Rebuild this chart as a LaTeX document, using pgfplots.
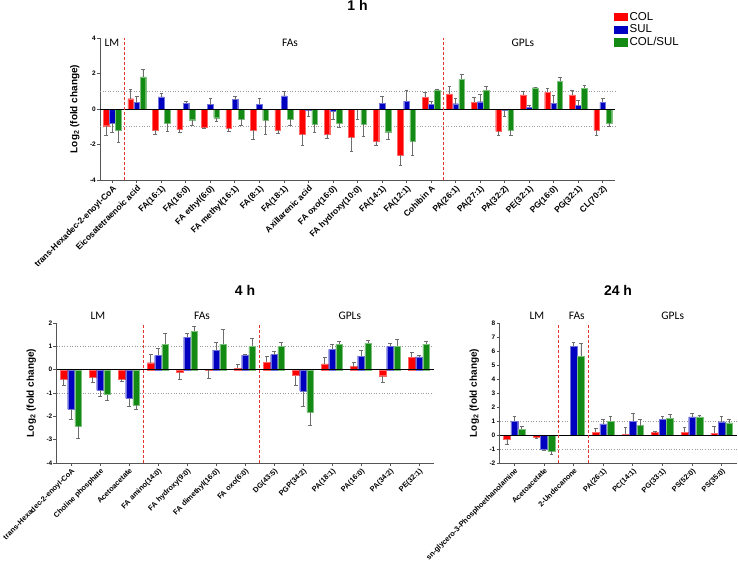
\documentclass[border=0pt]{standalone}
\usepackage{fontspec}
\setmainfont{Liberation Sans}
\newfontfamily\calib{Carlito}
\usepackage{pgfplots}
\usepackage{pgfplotstable}
\pgfplotsset{compat=1.18}

\definecolor{colred}{HTML}{FF0000}
\definecolor{sulblue}{HTML}{0000C0}
\definecolor{mixgreen}{HTML}{138A13}
\definecolor{errgray}{HTML}{6E6E6E}
\definecolor{axgray}{HTML}{555555}
\definecolor{refgray}{HTML}{9A9A9A}
\definecolor{divred}{HTML}{E8342E}

% mean log2 fold change and error (signed = direction the bar is drawn)
% cy/ce = COL, sy/se = SUL, gy/ge = COL/SUL
\pgfplotstableread{
x cy ce sy se gy ge
0 -0.94 -0.53 -0.81 -0.51 -1.17 -0.70
1 0.58 0.51 0.36 0.36 1.81 0.42
2 -1.17 -0.28 0.68 0.22 -0.79 -0.47
3 -1.15 -0.15 0.32 0.13 -0.60 -0.34
4 -1.02 -0.08 0.25 0.33 -0.49 -0.21
5 -1.08 -0.17 0.53 0.21 -0.57 -0.37
6 -1.21 -0.49 0.26 0.32 -0.64 -0.78
7 -1.21 -0.14 0.74 0.23 -0.55 -0.37
8 -1.40 -0.64 -0.08 -0.31 -0.86 -0.45
9 -1.41 -0.22 -0.13 -0.43 -0.79 -0.23
10 -1.58 -0.78 -0.03 -0.57 -0.86 -0.70
11 -1.83 -0.20 0.32 0.37 -1.28 -0.44
12 -2.60 -0.58 0.45 0.62 -1.83 -0.80
13 0.67 0.26 0.28 0.13 1.07 0.03
14 0.85 0.41 0.30 0.31 1.67 0.29
15 0.37 0.30 0.41 0.42 1.07 0.21
16 -1.26 -0.20 -0.07 -0.32 -1.20 -0.30
17 0.80 0.22 0.09 0.13 1.20 0.04
18 0.93 0.24 0.33 0.47 1.56 0.25
19 0.80 0.27 0.19 0.31 1.17 0.16
20 -1.17 -0.31 0.37 0.26 -0.80 -0.18
}\tOne

\pgfplotstableread{
x cy ce sy se gy ge
0 -0.42 -0.26 -1.70 -0.43 -2.42 -0.51
1 -0.32 -0.23 -0.88 -0.24 -1.07 -0.26
2 -0.41 -0.10 -1.23 -0.36 -1.51 -0.19
3 0.30 0.35 0.61 0.29 1.09 0.49
4 -0.10 -0.33 1.39 0.16 1.64 0.20
5 -0.02 -0.33 0.84 0.35 1.09 0.63
6 0.07 0.15 0.62 0.05 1.00 0.33
7 0.32 0.26 0.65 0.13 1.00 0.16
8 -0.25 -0.40 -0.91 -0.66 -1.83 -0.56
9 0.25 0.27 0.87 0.23 1.09 0.11
10 0.13 0.19 0.58 0.26 1.13 0.13
11 -0.26 -0.26 1.00 0.13 1.00 0.30
12 0.54 0.20 0.55 0.06 1.10 0.10
}\tFour

\pgfplotstableread{
x cy ce sy se gy ge
0 -0.31 -0.33 1.00 0.31 0.40 0.22
1 -0.14 -0.07 -1.02 -0.10 -1.17 -0.19
2 0 0 6.33 0.29 5.64 0.88
3 0.19 0.31 0.79 0.31 1.00 0.33
4 0.05 0.52 1.00 0.52 0.67 0.45
5 0.17 0.09 1.12 0.19 1.19 0.29
6 0.21 0.34 1.29 0.23 1.29 0.11
7 0.12 0.48 0.95 0.38 0.86 0.24
}\tDay

\tikzset{grp/.style={font=\calib\fontsize{11.5}{12}\selectfont}}
\pgfplotsset{
  panel/.style={
    scale only axis, clip=false,
    axis x line*=bottom, axis y line*=left,
    axis line style={axgray, line width=0.8pt},
    tick style={axgray, line width=0.8pt}, major tick length=3pt, tick align=outside,
    ybar, bar width=0.23,
    xtick=data,
    yticklabel style={font=\fontsize{6.5}{7}\selectfont\bfseries, inner sep=1pt},
    xticklabel style={font=\fontsize{7.4}{8}\selectfont\bfseries, rotate=45, anchor=north east, inner sep=1pt},
    ylabel={Log\textsubscript{2} (fold change)},
    ylabel style={font=\fontsize{10}{11}\selectfont\bfseries, at={(axis description cs:0,0.5)}, anchor=south, yshift=17pt},
    title style={font=\fontsize{14}{16}\selectfont\bfseries, at={(0.5,1)}, anchor=center},
  },
  ebar/.style={error bars/.cd, y dir=plus, y explicit,
    error bar style={errgray, line width=0.6pt},
    error mark options={errgray, line width=0.6pt, mark size=1.8pt, rotate=90}},
}

\begin{document}
\begin{tikzpicture}
\useasboundingbox (0,0) rectangle (738pt,563pt);

% ---------- 1 h ----------
\begin{axis}[panel, at={(100pt,383pt)}, anchor=south west,
  width=515pt, height=142pt,
  xmin=-0.5, xmax=20.5, ymin=-4, ymax=4,
  ytick={-4,-2,0,2,4}, yticklabels={-4,-2,0,2,4},
  xticklabel style={font=\fontsize{8.5}{9}\selectfont\bfseries},
  xticklabels={trans-Hexadec-2-enoyl-CoA, Eicosatetraenoic acid, FA(16:1), FA(16:0),
    FA ethyl(6:0), FA methyl(16:1), FA(8:1), FA(18:1), Axillarenic acid, FA oxo(16:0),
    FA hydroxy(10:0), FA(14:1), FA(12:1), Cohibin A, PA(26:1), PA(27:1), PA(32:2),
    PE(32:1), PG(16:0), PG(32:1), CL(70:2)},
  title={1 h}, title style={yshift=27pt},
  legend style={at={(1,1)}, anchor=north west, xshift=-1pt, yshift=28pt,
    draw=none, fill=none, inner sep=0pt, row sep=-1pt,
    font=\fontsize{11.5}{12}\selectfont, cells={anchor=west}},
]
\draw[refgray, dotted, line width=0.6pt] (axis cs:-0.5,1) -- (axis cs:20.5,1);
\draw[refgray, dotted, line width=0.6pt] (axis cs:-0.5,-1) -- (axis cs:20.5,-1);
\addplot[forget plot, fill=colred, draw=colred!60!white, line width=0.3pt, bar shift=-0.25, ebar] table[x=x, y=cy, y error=ce] {\tOne};
\addplot[forget plot, fill=sulblue, draw=sulblue!55!white, line width=0.3pt, bar shift=0, ebar] table[x=x, y=sy, y error=se] {\tOne};
\addplot[forget plot, fill=mixgreen, draw=mixgreen!55!white, line width=0.3pt, bar shift=0.25, ebar] table[x=x, y=gy, y error=ge] {\tOne};
\draw[black, line width=0.9pt] (axis cs:-0.5,0) -- (axis cs:20.5,0);
\draw[divred, line width=0.8pt, dash pattern=on 3pt off 2pt] (axis cs:0.5,-4) -- (axis cs:0.5,4);
\draw[divred, line width=0.8pt, dash pattern=on 3pt off 2pt] (axis cs:13.5,-4) -- (axis cs:13.5,4);
\node[grp] at (rel axis cs:0.023,0.965) {LM};
\node[grp] at (rel axis cs:0.369,0.965) {FAs};
\node[grp] at (rel axis cs:0.821,0.965) {GPLs};
\addlegendimage{legend image code/.code={\fill[colred] (0pt,-3.6pt) rectangle (13pt,3.6pt);}}
\addlegendentry{COL}
\addlegendimage{legend image code/.code={\fill[sulblue] (0pt,-3.6pt) rectangle (13pt,3.6pt);}}
\addlegendentry{SUL}
\addlegendimage{legend image code/.code={\fill[mixgreen] (0pt,-3.6pt) rectangle (13pt,3.6pt);}}
\addlegendentry{COL/SUL}
\end{axis}

% ---------- 4 h ----------
\begin{axis}[panel, at={(56.5pt,100pt)}, anchor=south west,
  width=377pt, height=140pt,
  xmin=-0.5, xmax=12.5, ymin=-4, ymax=2,
  ytick={-4,-3,-2,-1,0,1,2}, yticklabels={-4,-3,-2,-1,0,1,2},
  xticklabels={trans-Hexadec-2-enoyl-CoA, Choline phosphate, Acetoacetate,
    FA amino(14:0), FA hydroxy(9:0), FA dimethyl(16:0), FA oxo(6:0), DG(43:5),
    PGP(34:2), PA(18:1), PA(16:0), PA(34:2), PE(32:1)},
  title={4 h}, title style={yshift=27pt},
]
\draw[refgray, dotted, line width=0.6pt] (axis cs:-0.5,1) -- (axis cs:12.5,1);
\draw[refgray, dotted, line width=0.6pt] (axis cs:-0.5,-1) -- (axis cs:12.5,-1);
\addplot[fill=colred, draw=colred!60!white, line width=0.3pt, bar shift=-0.25, ebar] table[x=x, y=cy, y error=ce] {\tFour};
\addplot[fill=sulblue, draw=sulblue!55!white, line width=0.3pt, bar shift=0, ebar] table[x=x, y=sy, y error=se] {\tFour};
\addplot[fill=mixgreen, draw=mixgreen!55!white, line width=0.3pt, bar shift=0.25, ebar] table[x=x, y=gy, y error=ge] {\tFour};
\draw[black, line width=0.9pt] (axis cs:-0.5,0) -- (axis cs:12.5,0);
\draw[divred, line width=0.8pt, dash pattern=on 3pt off 2pt] (axis cs:2.5,-4) -- (axis cs:2.5,2);
\draw[divred, line width=0.8pt, dash pattern=on 3pt off 2pt] (axis cs:6.5,-4) -- (axis cs:6.5,2);
\node[grp] at (rel axis cs:0.110,1.05) {LM};
\node[grp] at (rel axis cs:0.386,1.05) {FAs};
\node[grp] at (rel axis cs:0.778,1.05) {GPLs};
\end{axis}

% ---------- 24 h ----------
\begin{axis}[panel, at={(499.5pt,100pt)}, anchor=south west,
  width=237pt, height=140pt,
  xmin=-0.5, xmax=7.5, ymin=-2, ymax=8,
  ytick={-2,-1,0,1,2,3,4,5,6,7,8}, yticklabels={-2,-1,0,1,2,3,4,5,6,7,8},
  xticklabels={sn-glycero-3-Phosphoethanolamine, Acetoacetate, 2-Undecanone,
    PA(26:1), PC(14:1), PG(33:1), PS(52:0), PS(35:0)},
  title={24 h}, title style={yshift=27pt},
]
\draw[refgray, dotted, line width=0.6pt] (axis cs:-0.5,1) -- (axis cs:7.5,1);
\draw[refgray, dotted, line width=0.6pt] (axis cs:-0.5,-1) -- (axis cs:7.5,-1);
\addplot[fill=colred, draw=colred!60!white, line width=0.3pt, bar shift=-0.25, ebar] table[x=x, y=cy, y error=ce] {\tDay};
\addplot[fill=sulblue, draw=sulblue!55!white, line width=0.3pt, bar shift=0, ebar] table[x=x, y=sy, y error=se] {\tDay};
\addplot[fill=mixgreen, draw=mixgreen!55!white, line width=0.3pt, bar shift=0.25, ebar] table[x=x, y=gy, y error=ge] {\tDay};
\draw[black, line width=0.9pt] (axis cs:-0.5,0) -- (axis cs:7.5,0);
\draw[divred, line width=0.8pt, dash pattern=on 3pt off 2pt] (axis cs:1.5,-2) -- (axis cs:1.5,8);
\draw[divred, line width=0.8pt, dash pattern=on 3pt off 2pt] (axis cs:2.5,-2) -- (axis cs:2.5,8);
\node[grp] at (rel axis cs:0.158,1.05) {LM};
\node[grp] at (rel axis cs:0.326,1.05) {FAs};
\node[grp] at (rel axis cs:0.731,1.05) {GPLs};
\end{axis}
\end{tikzpicture}
\end{document}
